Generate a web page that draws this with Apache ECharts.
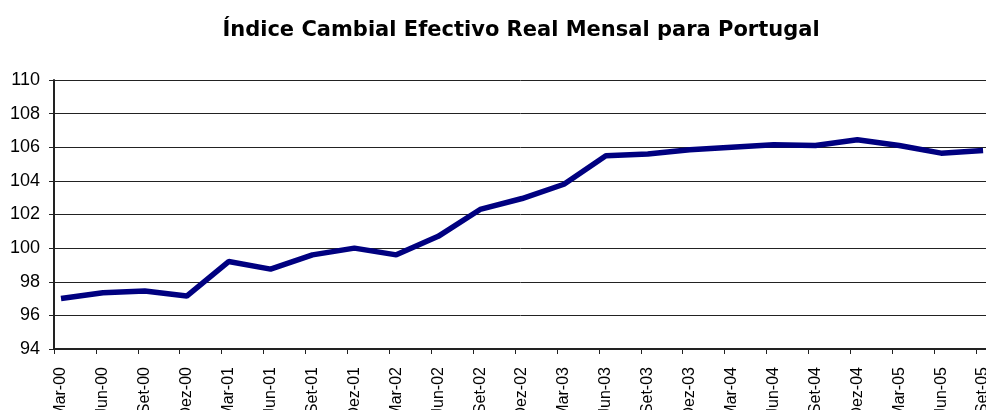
<!DOCTYPE html>
<html>
<head>
<meta charset="utf-8">
<script src="https://cdn.jsdelivr.net/npm/echarts@6/dist/echarts.min.js"></script>
<style>
html,body{margin:0;padding:0;background:#fff;}
#chart{width:986px;height:410px;}
</style>
</head>
<body>
<div id="chart"></div>
<script>
// Quarterly tick labels (one per quarter)
const quarterLabels = ['Mar-00','Jun-00','Set-00','Dez-00','Mar-01','Jun-01','Set-01','Dez-01','Mar-02','Jun-02','Set-02','Dez-02','Mar-03','Jun-03','Set-03','Dez-03','Mar-04','Jun-04','Set-04','Dez-04','Mar-05','Jun-05','Set-05'];
// Index values read at each quarter
const indexValues = [97.0, 97.35, 97.45, 97.15, 99.2, 98.75, 99.6, 100.0, 99.6, 100.7, 102.3, 102.95, 103.8, 105.5, 105.6, 105.85, 106.0, 106.15, 106.1, 106.45, 106.1, 105.65, 105.8];
const yTicks = {min: 94, max: 110, step: 2};
const titleText = 'Índice Cambial Efectivo Real Mensal para Portugal';

// monthly category slots: each quarter occupies 3 month slots; the axis continues past the last label
const categories = [];
const seriesData = [];
quarterLabels.forEach((l, i) => {
  categories.push(l, '', '');
  seriesData.push(indexValues[i], null, null);
});

const chart = echarts.init(document.getElementById('chart'));
chart.setOption({
  animation: false,
  backgroundColor: '#fff',
  title: {
    text: titleText,
    left: 516, top: 15,
    textAlign: 'center',
    textStyle: {fontFamily: 'DejaVu Sans', fontWeight: 'bold', fontSize: 21, color: '#000'}
  },
  grid: {left: 54, top: 80, height: 269, width: 964, containLabel: false, outerBoundsMode: 'none'},
  xAxis: {
    type: 'category',
    data: categories,
    boundaryGap: true,
    axisLine: {show: true, lineStyle: {color: '#222', width: 2}},
    axisTick: {show: true, interval: 2, length: 5, lineStyle: {color: '#222', width: 1}},
    axisLabel: {interval: 2, rotate: 90, margin: 18, fontFamily: 'Liberation Sans', fontSize: 16, color: '#000'},
    splitLine: {show: false}
  },
  yAxis: {
    type: 'value',
    min: yTicks.min, max: yTicks.max, interval: yTicks.step,
    axisLine: {show: true, lineStyle: {color: '#222', width: 2}},
    axisTick: {show: true, length: 5, lineStyle: {color: '#222'}},
    axisLabel: {margin: 14, fontFamily: 'Liberation Sans', fontSize: 18, color: '#000'},
    splitLine: {show: true, lineStyle: {color: '#222', width: 1}}
  },
  series: [{
    type: 'line',
    data: seriesData,
    connectNulls: true,
    symbol: 'none',
    lineStyle: {color: '#000080', width: 5.5},
    itemStyle: {color: '#000080'}
  }]
});
</script>
</body>
</html>
